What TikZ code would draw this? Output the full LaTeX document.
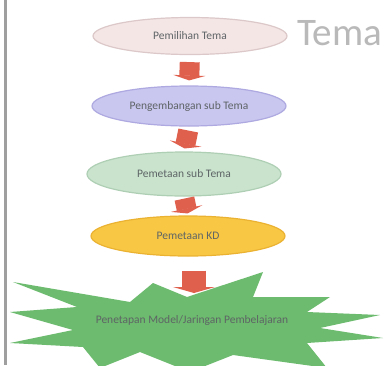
\documentclass[tikz,border=0pt]{standalone}
\usepackage{fontspec}
\setmainfont{Carlito}
\usetikzlibrary{shapes.geometric,arrows.meta}
\definecolor{pinkf}{HTML}{F5E6E6}
\definecolor{pinkd}{HTML}{DCC8C8}
\definecolor{lavf}{HTML}{C9C6EF}
\definecolor{lavd}{HTML}{AEA9E0}
\definecolor{grnf}{HTML}{C9E3CD}
\definecolor{grnd}{HTML}{AFCFB4}
\definecolor{golf}{HTML}{F8C845}
\definecolor{gold}{HTML}{EBB232}
\definecolor{starf}{HTML}{6DBB6E}
\definecolor{redar}{HTML}{E0604E}
\definecolor{txt}{HTML}{5E6466}
\tikzset{
  stage/.style={ellipse, draw, line width=1.2pt, minimum width=194pt, text=txt,
    font=\fontsize{11.5}{12}\selectfont, inner sep=0pt},
  blockarrow/.style={line width=20pt, draw=redar,
    -{Triangle[width=32pt,length=5pt]}},
}
\begin{document}
\begin{tikzpicture}[x=1pt,y=-1pt]
\useasboundingbox (0,0) rectangle (386,365);
\fill[white] (0,0) rectangle (386,365);
\begin{scope}
\clip (0,0) rectangle (386,365);
% left border
\draw[line width=3pt, color=gray!75] (5,0) -- (5,365);
% title
\node[anchor=west, text=gray!55, font=\fontsize{39}{41}\selectfont, inner sep=0pt] (title) at (297,33) {Tema};
% stages
\node[stage, fill=pinkf, draw=pinkd, minimum height=37pt] (e1) at (190,36) {Pemilihan Tema};
\node[stage, fill=lavf, draw=lavd, minimum height=40pt] (e2) at (189,106) {Pengembangan sub Tema};
\node[stage, fill=grnf, draw=grnd, minimum height=44pt] (e3) at (184,174) {Pemetaan sub Tema};
\node[stage, fill=golf, draw=gold, minimum height=40pt] (e4) at (188,236) {Pemetaan KD};
% starburst
\fill[starf] (13,282) -- (130,302) -- (153,283) -- (187,297) -- (263,272) -- (253,297)
  -- (330,297) -- (307,312) -- (380,315) -- (320,328) -- (383,338) -- (307,343)
  -- (327,368) -- (233,355) -- (190,372) -- (140,352) -- (100,368) -- (83,347)
  -- (10,343) -- (73,330) -- (10,312) -- (77,307) -- cycle;
\node[text=txt, font=\fontsize{11.5}{12}\selectfont] (sb) at (192,320) {Penetapan Model/Jaringan Pembelajaran};
\coordinate (sbtop) at (194,293);
% arrows
\draw[blockarrow, shorten <=7pt, shorten >=5pt] (e1.south) -- (e2.north);
\draw[blockarrow, shorten <=4pt, shorten >=3pt] (e2.south) -- (e3.north);
\draw[blockarrow, shorten <=2pt, shorten >=2pt] (e3.south) -- (e4.north);
\draw[blockarrow, line width=24pt, -{Triangle[width=42pt,length=6pt]}, shorten <=14pt] (e4.south -| sbtop) -- (sbtop);
\end{scope}
\end{tikzpicture}
\end{document}
